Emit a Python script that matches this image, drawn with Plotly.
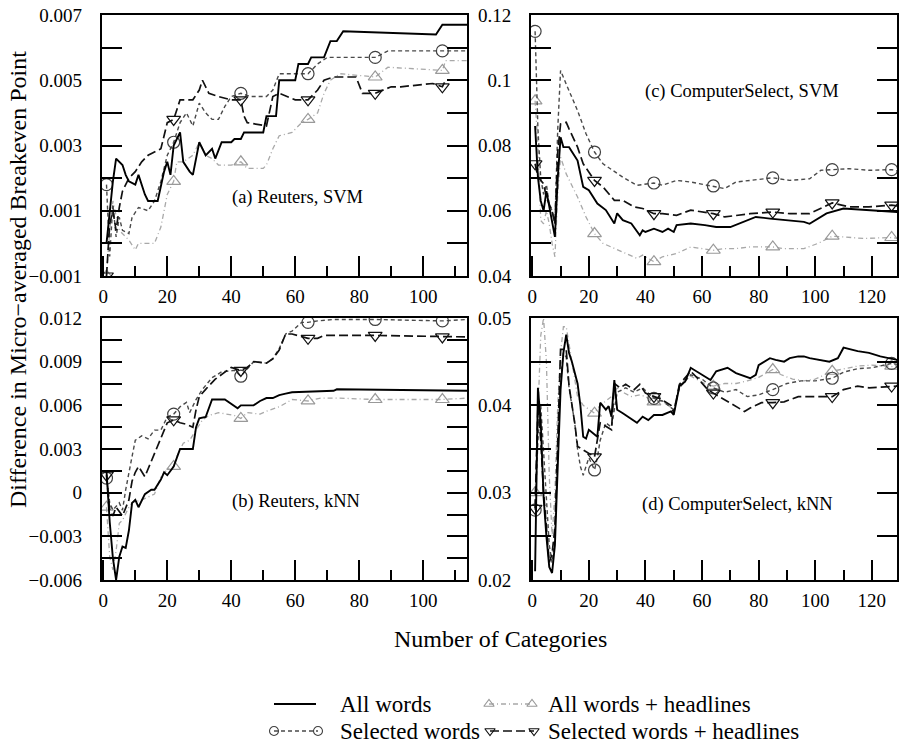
import plotly.graph_objects as go

# ---------------- data ----------------
# Panel (a) Reuters, SVM
A_ALL_X = [1,2,3,4,5,6,7,8,10,11,13,14,17,19,20,21,22,24,25,27,28,30,32,34,35,37,40,41,43,44,50,51,54,55,60,61,64,65,69,71,73,75,104,106,114]
A_ALL_Y = [0.0000,0.0010,0.0019,0.0026,0.0025,0.0024,0.0021,0.0019,0.0018,0.0021,0.0015,0.0013,0.0013,0.0022,0.0025,0.0021,0.0030,0.0034,0.0025,0.0022,0.0021,0.0031,0.0027,0.0029,0.0026,0.0031,0.0031,0.0032,0.0032,0.0034,0.0034,0.0039,0.0039,0.0050,0.0050,0.0055,0.0055,0.0057,0.0057,0.0062,0.0062,0.0065,0.0064,0.0067,0.0067]
A_SEL_X = [1,2,3,4,5,6,8,9,11,14,16,18,20,22,24,26,28,30,32,34,36,38,40,43,46,51,53,55,60,64,67,70,85,89,106,114]
A_SEL_Y = [0.0018,-0.0004,0.0012,0.0002,0.0008,0.0004,0.0003,0.0008,0.0011,0.0010,0.0013,0.0019,0.0027,0.0031,0.0037,0.0040,0.0036,0.0043,0.0040,0.0038,0.0038,0.0042,0.0045,0.0046,0.0045,0.0045,0.0047,0.0052,0.0052,0.0052,0.0055,0.0057,0.0057,0.0059,0.0059,0.0059]
A_AWH_X = [1,2,3,4,5,8,10,11,16,18,20,22,23,25,28,30,32,34,36,40,43,45,50,51,53,55,59,62,64,67,69,71,74,85,89,106,107,114]
A_AWH_Y = [-0.0010,0.0004,0.0013,0.0008,0.0004,0.0001,-0.0002,0.0000,0.0000,0.0005,0.0015,0.0019,0.0025,0.0025,0.0027,0.0031,0.0027,0.0026,0.0024,0.0024,0.0025,0.0023,0.0023,0.0024,0.0029,0.0033,0.0034,0.0037,0.0038,0.0040,0.0046,0.0050,0.0052,0.0051,0.0054,0.0053,0.0056,0.0056]
A_SWH_X = [1,2,3,4,5,6,8,10,12,14,16,18,20,22,24,28,30,31,33,36,40,43,44,45,51,53,55,60,64,67,69,72,79,81,85,90,93,103,106,107,114]
A_SWH_Y = [-0.0010,0.0006,0.0010,0.0004,0.0011,0.0016,0.0020,0.0022,0.0025,0.0027,0.0028,0.0029,0.0037,0.0038,0.0044,0.0044,0.0047,0.0050,0.0046,0.0045,0.0044,0.0044,0.0039,0.0037,0.0036,0.0045,0.0046,0.0044,0.0044,0.0047,0.0050,0.0051,0.0051,0.0046,0.0046,0.0048,0.0048,0.0049,0.0048,0.0050,0.0050]

# Panel (b) Reuters, kNN
B_ALL_X = [1,2,3,4,5,6,7,8,9,10,11,13,15,16,18,19,20,22,24,28,29,30,32,34,38,42,43,47,49,51,53,55,57,59,72,73,114]
B_ALL_Y = [0.0015,-0.0020,-0.0045,-0.0060,-0.0044,-0.0037,-0.0038,-0.0026,-0.0007,-0.0005,-0.0010,-0.0001,0.0002,0.0002,0.0009,0.0014,0.0012,0.0018,0.0030,0.0030,0.0045,0.0051,0.0052,0.0064,0.0064,0.0058,0.0060,0.0060,0.0063,0.0065,0.0065,0.0067,0.0068,0.0069,0.0070,0.0071,0.0070]
B_SEL_X = [1,2,3,5,6,7,9,10,12,14,16,18,20,22,24,26,27,29,31,34,37,41,43,45,47,51,53,55,57,59,62,64,67,72,85,106,114]
B_SEL_Y = [0.0010,-0.0007,-0.0012,-0.0007,-0.0012,0.0002,0.0025,0.0036,0.0039,0.0037,0.0043,0.0043,0.0052,0.0054,0.0059,0.0062,0.0055,0.0064,0.0071,0.0079,0.0083,0.0084,0.0080,0.0085,0.0090,0.0089,0.0092,0.0099,0.0109,0.0111,0.0117,0.0117,0.0118,0.0119,0.0119,0.0118,0.0119]
B_AWH_X = [1,2,3,4,5,6,8,9,12,14,16,18,20,22,23,25,27,29,31,33,36,41,43,45,49,51,55,59,64,68,73,85,106,114]
B_AWH_Y = [-0.0010,-0.0044,-0.0053,-0.0040,-0.0021,-0.0019,-0.0010,-0.0007,-0.0005,-0.0003,-0.0001,0.0011,0.0016,0.0018,0.0025,0.0034,0.0036,0.0043,0.0050,0.0053,0.0055,0.0053,0.0051,0.0055,0.0054,0.0056,0.0059,0.0064,0.0063,0.0065,0.0065,0.0064,0.0064,0.0065]
B_SWH_X = [1,2,3,4,5,6,8,9,10,11,13,16,17,19,20,22,24,26,28,29,30,32,35,40,43,45,47,51,53,55,57,59,62,64,67,69,85,106,114]
B_SWH_Y = [0.0012,-0.0012,-0.0016,-0.0010,-0.0013,-0.0016,-0.0005,0.0008,0.0014,0.0018,0.0011,0.0027,0.0032,0.0043,0.0048,0.0050,0.0048,0.0047,0.0045,0.0057,0.0066,0.0071,0.0078,0.0086,0.0084,0.0086,0.0090,0.0089,0.0092,0.0098,0.0109,0.0109,0.0107,0.0106,0.0106,0.0108,0.0108,0.0107,0.0107]

# Panel (c) ComputerSelect, SVM
C_ALL_X = [1,2,3,4,5,6,7,8,9,10,11,13,16,18,20,23,26,29,30,32,35,38,39,40,43,46,48,50,51,56,61,65,70,75,79,84,89,96,98,101,104,110,118,129]
C_ALL_Y = [0.0860,0.0703,0.0630,0.0600,0.0660,0.0611,0.0560,0.0520,0.0700,0.0825,0.0795,0.0795,0.0754,0.0673,0.0663,0.0622,0.0602,0.0561,0.0592,0.0571,0.0561,0.0525,0.0540,0.0535,0.0545,0.0535,0.0545,0.0535,0.0556,0.0561,0.0556,0.0550,0.0550,0.0566,0.0581,0.0576,0.0571,0.0566,0.0560,0.0576,0.0592,0.0607,0.0602,0.0596]
C_SEL_X = [1,2,3,4,5,6,7,8,9,10,12,16,19,22,25,29,32,37,43,46,51,56,64,68,72,77,85,91,98,102,106,112,119,127,129]
C_SEL_Y = [0.1150,0.0850,0.0700,0.0650,0.0680,0.0620,0.0600,0.0560,0.0850,0.1030,0.0988,0.0907,0.0836,0.0780,0.0744,0.0719,0.0703,0.0678,0.0685,0.0678,0.0693,0.0688,0.0676,0.0668,0.0688,0.0693,0.0701,0.0693,0.0698,0.0724,0.0726,0.0729,0.0724,0.0726,0.0722]
C_AWH_X = [1,2,3,4,5,6,7,8,9,10,12,16,19,22,25,29,33,37,39,43,46,51,56,61,64,68,72,77,85,89,96,101,106,110,117,127,129]
C_AWH_Y = [0.0937,0.0800,0.0570,0.0560,0.0600,0.0560,0.0500,0.0459,0.0650,0.0764,0.0713,0.0642,0.0581,0.0530,0.0500,0.0484,0.0469,0.0454,0.0464,0.0444,0.0459,0.0469,0.0489,0.0484,0.0479,0.0484,0.0484,0.0489,0.0489,0.0484,0.0484,0.0500,0.0522,0.0520,0.0515,0.0518,0.0515]
C_SWH_X = [1,2,4,5,6,7,8,9,10,12,13,16,18,22,25,29,32,36,39,43,46,51,56,64,68,72,77,85,91,98,106,112,119,127,129]
C_SWH_Y = [0.0744,0.0703,0.0683,0.0640,0.0620,0.0600,0.0560,0.0780,0.0866,0.0871,0.0851,0.0795,0.0744,0.0693,0.0673,0.0632,0.0632,0.0612,0.0607,0.0591,0.0591,0.0586,0.0602,0.0591,0.0581,0.0586,0.0591,0.0596,0.0591,0.0591,0.0624,0.0612,0.0612,0.0617,0.0615]

# Panel (d) ComputerSelect, kNN
D_ALL_X = [1,2,3,4,5,6,7,8,9,10,11,12,13,14,16,17,18,19,20,22,23,24,26,27,28,29,30,32,35,37,39,41,43,46,49,50,52,54,56,58,60,63,65,69,72,75,77,79,80,84,86,89,91,94,96,98,101,105,108,110,115,119,123,126,129]
D_ALL_Y = [0.0210,0.0420,0.0380,0.0295,0.0250,0.0215,0.0208,0.0240,0.0330,0.0418,0.0460,0.0481,0.0460,0.0450,0.0425,0.0400,0.0364,0.0362,0.0372,0.0366,0.0364,0.0403,0.0395,0.0399,0.0387,0.0429,0.0395,0.0391,0.0385,0.0380,0.0387,0.0383,0.0389,0.0389,0.0393,0.0389,0.0422,0.0427,0.0443,0.0439,0.0435,0.0429,0.0439,0.0443,0.0437,0.0433,0.0431,0.0435,0.0446,0.0454,0.0452,0.0450,0.0454,0.0456,0.0456,0.0454,0.0452,0.0450,0.0454,0.0466,0.0462,0.0460,0.0456,0.0454,0.0452]
D_SEL_X = [1,2,3,4,5,6,7,8,9,10,11,12,13,14,15,16,17,18,20,22,23,24,26,28,30,33,36,39,43,46,50,52,56,60,64,68,72,76,80,85,90,95,100,106,110,115,120,127,129]
D_SEL_Y = [0.0280,0.0360,0.0400,0.0350,0.0290,0.0240,0.0220,0.0250,0.0350,0.0430,0.0460,0.0455,0.0420,0.0400,0.0380,0.0350,0.0330,0.0320,0.0340,0.0326,0.0340,0.0360,0.0380,0.0375,0.0415,0.0420,0.0415,0.0420,0.0408,0.0405,0.0395,0.0420,0.0435,0.0430,0.0420,0.0415,0.0418,0.0410,0.0412,0.0418,0.0425,0.0428,0.0428,0.0431,0.0438,0.0442,0.0443,0.0448,0.0447]
D_AWH_X = [1,2,3,4,5,6,7,8,9,10,11,12,13,14,15,16,18,20,22,24,26,28,30,32,35,38,40,43,46,50,52,55,58,61,64,68,72,76,80,85,88,92,96,100,106,110,115,120,127,129]
D_AWH_Y = [0.0300,0.0400,0.0480,0.0500,0.0450,0.0320,0.0250,0.0300,0.0400,0.0460,0.0490,0.0490,0.0470,0.0450,0.0430,0.0410,0.0400,0.0395,0.0391,0.0400,0.0405,0.0410,0.0420,0.0415,0.0410,0.0412,0.0410,0.0404,0.0405,0.0395,0.0420,0.0435,0.0430,0.0425,0.0422,0.0425,0.0425,0.0428,0.0432,0.0441,0.0435,0.0430,0.0428,0.0430,0.0439,0.0442,0.0445,0.0446,0.0445,0.0444]
D_SWH_X = [1,2,3,4,5,6,7,8,9,10,12,13,15,16,18,20,22,24,26,28,29,31,33,36,38,40,43,45,49,50,52,56,59,62,64,68,71,75,77,81,85,89,94,100,106,110,115,119,127,129]
D_SWH_Y = [0.0282,0.0400,0.0360,0.0300,0.0260,0.0220,0.0230,0.0260,0.0360,0.0464,0.0464,0.0422,0.0380,0.0353,0.0349,0.0345,0.0341,0.0380,0.0376,0.0372,0.0425,0.0420,0.0424,0.0418,0.0424,0.0414,0.0410,0.0408,0.0400,0.0391,0.0424,0.0439,0.0429,0.0418,0.0414,0.0406,0.0400,0.0393,0.0397,0.0403,0.0403,0.0404,0.0410,0.0410,0.0410,0.0418,0.0422,0.0420,0.0422,0.0422]

MARK_X = [1, 22, 43, 64, 85, 106, 127]
SERIES_NAMES = ["All words", "Selected words", "All words + headlines", "Selected words + headlines"]
PANEL_LABELS = ["(a) Reuters, SVM", "(b) Reuters, kNN", "(c) ComputerSelect, SVM", "(d) ComputerSelect, kNN"]

# ---------------- styling ----------------
FONT = "Liberation Serif, Times New Roman, DejaVu Serif, serif"
W, H = 900, 744
STY = {
    "all": dict(color="#000000", dash="solid", width=1.9, symbol=None, msize=0, mcolor="#000000"),
    "sel": dict(color="#4a4a4a", dash="4px,3px", width=1.4, symbol="circle-open", msize=12, mcolor="#404040"),
    "awh": dict(color="#a8a8a8", dash="5px,3px,1px,3px", width=1.3, symbol="triangle-up-open", msize=12, mcolor="#999999"),
    "swh": dict(color="#111111", dash="9px,4px", width=1.7, symbol="triangle-down-open", msize=12, mcolor="#111111"),
}
ORDER = ["awh", "sel", "swh", "all"]
KEY_NAME = dict(zip(["all", "sel", "awh", "swh"], SERIES_NAMES))

panels = [
    (PANEL_LABELS[0], "x", "y", {"all": (A_ALL_X, A_ALL_Y), "sel": (A_SEL_X, A_SEL_Y), "awh": (A_AWH_X, A_AWH_Y), "swh": (A_SWH_X, A_SWH_Y)}),
    (PANEL_LABELS[2], "x2", "y2", {"all": (C_ALL_X, C_ALL_Y), "sel": (C_SEL_X, C_SEL_Y), "awh": (C_AWH_X, C_AWH_Y), "swh": (C_SWH_X, C_SWH_Y)}),
    (PANEL_LABELS[1], "x3", "y3", {"all": (B_ALL_X, B_ALL_Y), "sel": (B_SEL_X, B_SEL_Y), "awh": (B_AWH_X, B_AWH_Y), "swh": (B_SWH_X, B_SWH_Y)}),
    (PANEL_LABELS[3], "x4", "y4", {"all": (D_ALL_X, D_ALL_Y), "sel": (D_SEL_X, D_SEL_Y), "awh": (D_AWH_X, D_AWH_Y), "swh": (D_SWH_X, D_SWH_Y)}),
]

fig = go.Figure()
for label, xa, ya, data in panels:
    for key in ORDER:
        xs, ys = data[key]
        s = STY[key]
        fig.add_trace(go.Scatter(x=xs, y=ys, mode="lines", xaxis=xa, yaxis=ya, showlegend=False,
                                 line=dict(color=s["color"], dash=s["dash"], width=s["width"]),
                                 hoverinfo="skip"))
        if s["symbol"]:
            mx = [x for x in xs if x in MARK_X]
            my = [y for x, y in zip(xs, ys) if x in MARK_X]
            fig.add_trace(go.Scatter(x=mx, y=my, mode="markers", xaxis=xa, yaxis=ya, showlegend=False,
                                     marker=dict(symbol=s["symbol"], size=s["msize"],
                                                 color=s["mcolor"], line=dict(width=1.2, color=s["mcolor"])),
                                     hoverinfo="skip"))

# ---------------- key (legend) at the bottom, drawn on a hidden pixel-unit axis ----------------
# (sample x0, sample x1, text x, row y) in page pixels -- layout only, not data
KEY_LAYOUT = {
    "all": (274, 316, 338, 704),
    "sel": (274, 318, 338, 731),
    "awh": (489, 532, 546, 704),
    "swh": (490, 534, 546, 731),
}
for key, (x0, x1, tx, ry) in KEY_LAYOUT.items():
    s = STY[key]
    fig.add_trace(go.Scatter(
        x=[x0, x1], y=[ry, ry], xaxis="x5", yaxis="y5", showlegend=False, hoverinfo="skip",
        mode="lines+markers" if s["symbol"] else "lines",
        line=dict(color=s["color"], dash=s["dash"], width=s["width"]),
        marker=dict(symbol=s["symbol"] or "circle", size=9, color=s["mcolor"],
                    line=dict(width=1.1, color=s["mcolor"])),
        cliponaxis=False))

def px_x(p):
    return p / W

def px_y(p):
    return 1 - p / H

XDOM_L = [px_x(101.7), px_x(467)]
XDOM_R = [px_x(531), px_x(897)]
YDOM_T = [px_y(276), px_y(15)]
YDOM_B = [px_y(580), px_y(318)]
KEY_TOP = 684

tickfont = dict(family=FONT, size=19, color="black")

def xaxis(domain, anchor, rng):
    return dict(domain=domain, anchor=anchor, range=rng, showgrid=False, zeroline=False, automargin=False,
                showline=True, linewidth=2, linecolor="black", mirror=True,
                ticks="inside", ticklen=20, tickwidth=1.6, tickcolor="black",
                tick0=0, dtick=20, tickfont=tickfont, ticklabelstandoff=2,
                minor=dict(ticks="inside", ticklen=10, tickwidth=1.6, tickcolor="black", dtick=10, tick0=0, showgrid=False))

def yaxis(domain, anchor, rng, tick0, dtick, mdtick):
    return dict(domain=domain, anchor=anchor, range=rng, showgrid=False, zeroline=False, automargin=False,
                showline=True, linewidth=2, linecolor="black", mirror="allticks",
                ticks="inside", ticklen=20, tickwidth=1.6, tickcolor="black",
                tick0=tick0, dtick=dtick, tickfont=tickfont, ticklabelstandoff=14,
                minor=dict(ticks="inside", ticklen=20, tickwidth=1.6, tickcolor="black", dtick=mdtick, tick0=tick0, showgrid=False))

annotations = []
ann_pos = [(PANEL_LABELS[0], 297, 197), (PANEL_LABELS[2], 742, 91), (PANEL_LABELS[1], 296, 502), (PANEL_LABELS[3], 737, 505)]
for txt, ax_, ay_ in ann_pos:
    annotations.append(dict(text=txt, x=px_x(ax_), y=px_y(ay_), xref="paper", yref="paper",
                            showarrow=False, xanchor="center", yanchor="middle",
                            font=dict(family=FONT, size=18.5, color="black")))
annotations.append(dict(text="Difference in Micro\u2212averaged Breakeven Point", x=px_x(18), y=px_y(280),
                        xref="paper", yref="paper", showarrow=False, textangle=-90,
                        xanchor="center", yanchor="middle", font=dict(family=FONT, size=24, color="black")))
annotations.append(dict(text="Number of Categories", x=px_x(500), y=px_y(639), xref="paper", yref="paper",
                        showarrow=False, xanchor="center", yanchor="middle",
                        font=dict(family=FONT, size=24, color="black")))
for key, (x0, x1, tx, ry) in KEY_LAYOUT.items():
    annotations.append(dict(text=KEY_NAME[key], x=px_x(tx), y=px_y(ry), xref="paper", yref="paper",
                            showarrow=False, xanchor="left", yanchor="middle",
                            font=dict(family=FONT, size=23, color="black")))

fig.update_layout(
    template="none",
    width=W, height=H, autosize=False, margin=dict(l=0, r=0, t=0, b=0, pad=0, autoexpand=False),
    paper_bgcolor="white", plot_bgcolor="white", showlegend=False,
    xaxis=xaxis(XDOM_L, "y", [-0.5, 113.7]),
    yaxis=yaxis(YDOM_T, "x", [-0.001, 0.007], -0.001, 0.002, 0.001),
    xaxis2=xaxis(XDOM_R, "y2", [-0.45, 128.9]),
    yaxis2=yaxis(YDOM_T, "x2", [0.04, 0.12], 0.04, 0.02, 0.01),
    xaxis3=xaxis(XDOM_L, "y3", [-0.5, 113.7]),
    yaxis3=yaxis(YDOM_B, "x3", [-0.006, 0.012], -0.006, 0.003, 0.0015),
    xaxis4=xaxis(XDOM_R, "y4", [-0.45, 128.9]),
    yaxis4=yaxis(YDOM_B, "x4", [0.02, 0.05], 0.02, 0.01, 0.005),
    xaxis5=dict(domain=[0, 1], anchor="y5", range=[0, W], visible=False, fixedrange=True, automargin=False),
    yaxis5=dict(domain=[0, px_y(KEY_TOP)], anchor="x5", range=[H, KEY_TOP], visible=False, fixedrange=True, automargin=False),
    annotations=annotations,
)

# remove the default page margin so the 900x744 figure fills the window exactly
POST = "document.body.style.margin='0';document.body.style.overflow='hidden';"
fig.write_html("out.html", post_script=POST, config={"displayModeBar": False})
